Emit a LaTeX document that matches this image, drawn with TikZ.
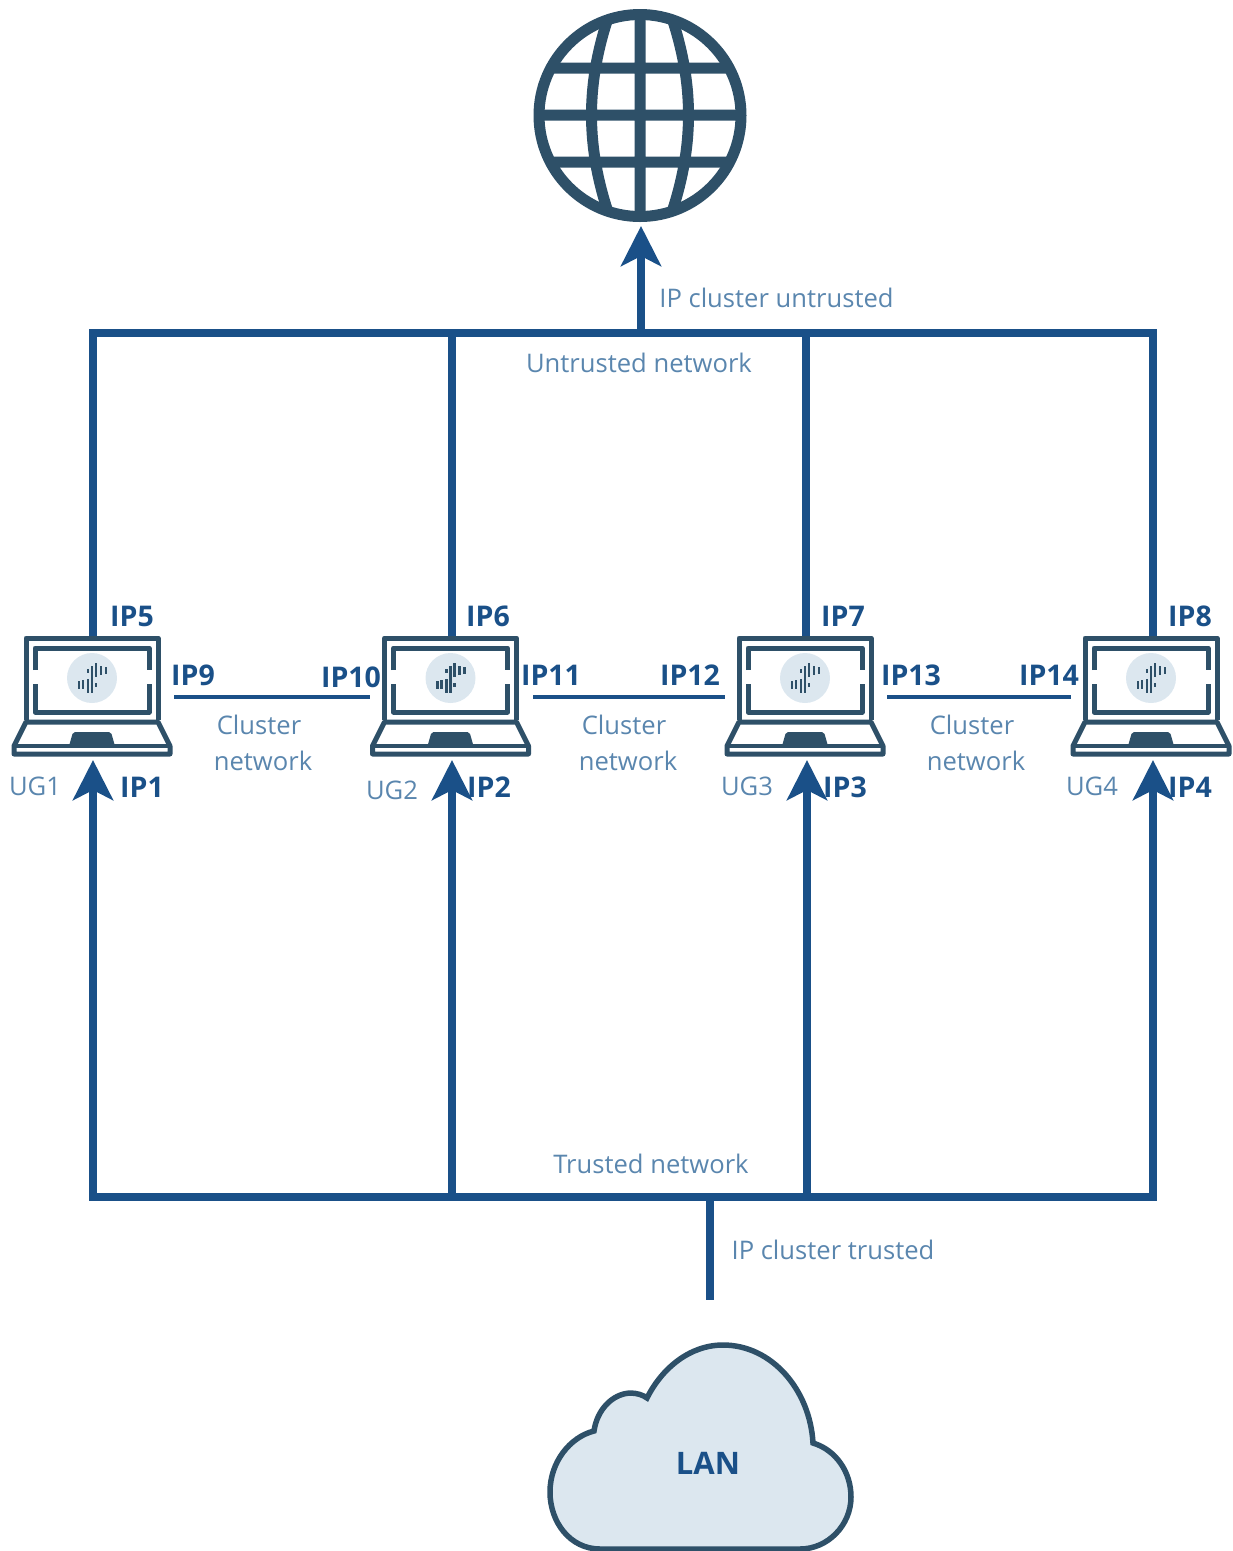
\documentclass[tikz,border=0pt]{standalone}
\usepackage{fontspec}
\setmainfont{Open Sans}
\usetikzlibrary{arrows.meta}
\definecolor{wire}{HTML}{1A5088}
\definecolor{slate}{HTML}{2E5068}
\definecolor{pale}{HTML}{DCE7EF}
\definecolor{thin}{HTML}{5A86AE}
\tikzset{
  x=1pt,y=-1pt,
  bus/.style={draw=wire,line width=8pt},
  uplink/.style={draw=wire,line width=8pt,-{Stealth[length=40pt,width=40pt,inset=10pt]}},
  clusterline/.style={draw=wire,line width=4pt},
  iplabel/.style={text=wire,font=\bfseries\fontsize{28.5}{32}\selectfont,inner sep=0pt},
  notelabel/.style={text=thin,font=\fontsize{25.6}{30}\selectfont,inner sep=0pt},
  laptop/.pic={
    \coordinate (-top) at (0,0);
    \coordinate (-bottom) at (0,124);
    \fill[pale] (0,42) circle (25);
    \draw[slate,line width=5pt,line join=round] (-66,84) -- (-66,2) -- (66,2) -- (66,84);
    \draw[slate,line width=5pt,line join=round] (-57,34) -- (-57,12) -- (57,12) -- (57,34)
       (-57,48) -- (-57,76) -- (57,76) -- (57,48);
    \draw[slate,line width=5pt,line join=round] (-66,86) -- (66,86) -- (78,110) -- (78,118) -- (-78,118) -- (-78,110) -- cycle;
    \draw[slate,line width=4.5pt] (-78,110) -- (78,110);
    \fill[slate,rounded corners=2pt] (-23,110) -- (-19,96) -- (19,96) -- (23,110) -- cycle;
    \draw[slate,line width=2.3pt]
      (-4,33) -- (-4,37) (0,30) -- (0,42) (4,27) -- (4,41) (9,30) -- (9,39) (14,31) -- (14,38)
      (-13,45) -- (-13,53) (-9,44) -- (-9,53) (-4,43) -- (-4,57) (0,42) -- (0,57) (4,47) -- (4,51);
  }
}
\begin{document}
\begin{tikzpicture}
\useasboundingbox (0,0) rectangle (1233,1551);

% globe
\begin{scope}
  \clip (640,115.5) circle (104);
  \draw[slate,line width=11pt]
    (530,68) -- (750,68) (530,115) -- (750,115) (530,162) -- (750,162) (640,5) -- (640,225)
    (608,18) .. controls (586,85) and (586,145) .. (608,212)
    (672,18) .. controls (694,85) and (694,145) .. (672,212);
\end{scope}
\node[circle,draw=slate,line width=11pt,minimum size=202pt,inner sep=0pt] (globe) at (640,115.5) {};

% cloud
\path[draw=slate,fill=pale,line width=5.5pt] (600,1549)
  .. controls (570,1549) and (550,1522) .. (550,1492)
  .. controls (550,1462) and (570,1437) .. (594,1431)
  .. controls (597,1410) and (612,1394) .. (630,1393)
  .. controls (637,1393) and (643,1395) .. (647,1398)
  .. controls (662,1368) and (690,1345) .. (723,1345)
  .. controls (772,1345) and (810,1390) .. (813,1443)
  .. controls (836,1450) and (851,1472) .. (851,1497)
  .. controls (851,1525) and (828,1549) .. (800,1549) -- cycle;
\node[text=wire,font=\bfseries\fontsize{31}{35}\selectfont,inner sep=0pt] (lan) at (708,1463) {LAN};

% laptops
\pic (lapa) at (92,636) {laptop};
\pic (lapb) at (450.5,636) {laptop};
\pic (lapc) at (805,636) {laptop};
\pic (lapd) at (1151,636) {laptop};

% bus anchor points
\coordinate (tl) at (89,333);
\coordinate (tr) at (1157,333);
\coordinate (ta) at (93,333);
\coordinate (tb) at (451.5,333);
\coordinate (tc) at (806,333);
\coordinate (td) at (1153,333);
\coordinate (tup) at (641,333);
\coordinate (inet) at (641,226);
\coordinate (bl) at (89,1197);
\coordinate (br) at (1157,1197);
\coordinate (ba) at (93,1197);
\coordinate (bb) at (452,1197);
\coordinate (bc) at (807,1197);
\coordinate (bd) at (1153,1197);
\coordinate (bdown) at (710,1197);
\coordinate (lanend) at (710,1300);
\coordinate (aa) at (93,760);
\coordinate (ab) at (452,760);
\coordinate (ac) at (807,760);
\coordinate (ad) at (1153,760);
\coordinate (ca1) at (174,697);
\coordinate (ca2) at (370,697);
\coordinate (cb1) at (533,697);
\coordinate (cb2) at (725,697);
\coordinate (cc1) at (887,697);
\coordinate (cc2) at (1071,697);

\draw[bus] (tl) -- (tr);
\draw[bus] (bl) -- (br);
\draw[bus] (ta) -- (ta |- lapa-top);
\draw[bus] (tb) -- (tb |- lapb-top);
\draw[bus] (tc) -- (tc |- lapc-top);
\draw[bus] (td) -- (td |- lapd-top);
\draw[uplink] (tup) -- (inet);
\draw[uplink] (ba) -- (aa);
\draw[uplink] (bb) -- (ab);
\draw[uplink] (bc) -- (ac);
\draw[uplink] (bd) -- (ad);
\draw[bus] (bdown) -- (lanend);
\draw[clusterline] (ca1) -- (ca2);
\draw[clusterline] (cb1) -- (cb2);
\draw[clusterline] (cc1) -- (cc2);

% bold labels
\node[iplabel] (ip5) at (132,616) {IP5};
\node[iplabel] (ip6) at (488,616) {IP6};
\node[iplabel] (ip7) at (843,616) {IP7};
\node[iplabel] (ip8) at (1190,616) {IP8};
\node[iplabel] (ip9) at (193,675) {IP9};
\node[iplabel] (ip10) at (351,677) {IP10};
\node[iplabel] (ip11) at (551,675) {IP11};
\node[iplabel] (ip12) at (690,675) {IP12};
\node[iplabel] (ip13) at (911,675) {IP13};
\node[iplabel] (ip14) at (1049,675) {IP14};
\node[iplabel] (ip1) at (142,787) {IP1};
\node[iplabel] (ip2) at (489,787) {IP2};
\node[iplabel] (ip3) at (845,787) {IP3};
\node[iplabel] (ip4) at (1190,787) {IP4};

% light labels
\node[notelabel] (ug1) at (35,786) {UG1};
\node[notelabel] (ug2) at (392,790) {UG2};
\node[notelabel] (ug3) at (747,786) {UG3};
\node[notelabel] (ug4) at (1092,786) {UG4};
\node[notelabel] (cna1) at (259,725) {Cluster};
\node[notelabel] (cna2) at (263,761) {network};
\node[notelabel] (cnb1) at (624,725) {Cluster};
\node[notelabel] (cnb2) at (628,761) {network};
\node[notelabel] (cnc1) at (972,725) {Cluster};
\node[notelabel] (cnc2) at (976,761) {network};
\node[notelabel] (untr) at (639,363) {Untrusted network};
\node[notelabel] (trnet) at (651,1164) {Trusted network};
\node[notelabel] (ipu) at (776.5,298) {IP cluster untrusted};
\node[notelabel] (ipt) at (833,1250) {IP cluster trusted};
\end{tikzpicture}
\end{document}
